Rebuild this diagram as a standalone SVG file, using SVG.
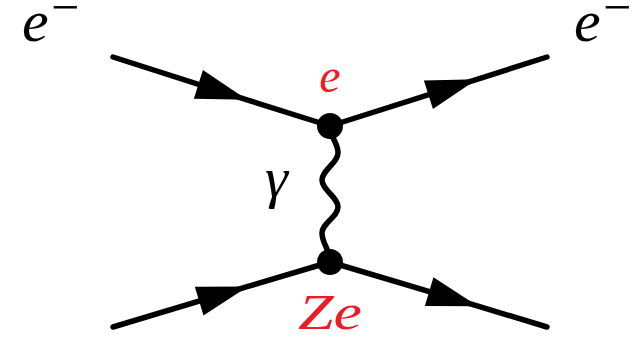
<svg xmlns="http://www.w3.org/2000/svg" width="635" height="337" viewBox="0 0 635 337">
<style>
.f{fill:none;stroke:#000;stroke-width:5.5;stroke-linecap:round;stroke-linejoin:round}
.w{fill:none;stroke:#000;stroke-width:5.5;stroke-linecap:round}
.v{fill:#000}
.red{fill:#ED1C24}
</style>
<defs>
<marker id="arr" markerUnits="userSpaceOnUse" viewBox="-52 -16 53 32" refX="0" refY="0" markerWidth="53" markerHeight="32" orient="auto">
<path d="M0,0 L-51,-15 L-51,15 Z" fill="#000"/>
</marker>
</defs>
<g id="connectors">
<path class="f" d="M113,57 L247,99.8 L330,126" marker-mid="url(#arr)"/>
<path class="f" d="M330,126 L477,79.3 L547,57" marker-mid="url(#arr)"/>
<path class="f" d="M113,327 L248,286.4 L330,262" marker-mid="url(#arr)"/>
<path class="f" d="M330,262 L478,306.2 L547,327" marker-mid="url(#arr)"/>
<path class="w" d="M330,126 C330,138 338,142 338,153 C338,163 322,170 322,180 C322,190 338,197 338,207 C338,217 322,223 322,233 C322,244 330,249 330,262"/>
</g>
<g id="vertex-top"><circle class="v" cx="330" cy="126" r="13"/></g>
<g id="vertex-bottom"><circle class="v" cx="330" cy="262" r="13"/></g>
<g font-family="'Liberation Serif', 'DejaVu Serif', serif">
<g id="label-e-in">
<text font-style="italic" x="22" y="41" font-size="60">e</text>
<text x="51" y="24" font-size="50">−</text>
</g>
<g id="label-e-out">
<text font-style="italic" x="574" y="41" font-size="60">e</text>
<text x="603" y="24" font-size="50">−</text>
</g>
<g id="label-e-vertex"><text class="red" font-style="italic" x="330" y="92" font-size="48" text-anchor="middle">e</text></g>
<g id="label-Ze"><text class="red" font-style="italic" x="298" y="329" font-size="50" textLength="64" lengthAdjust="spacingAndGlyphs">Ze</text></g>
<g id="label-gamma"><text font-style="italic" x="265" y="197" font-size="58">γ</text></g>
</g>
</svg>
